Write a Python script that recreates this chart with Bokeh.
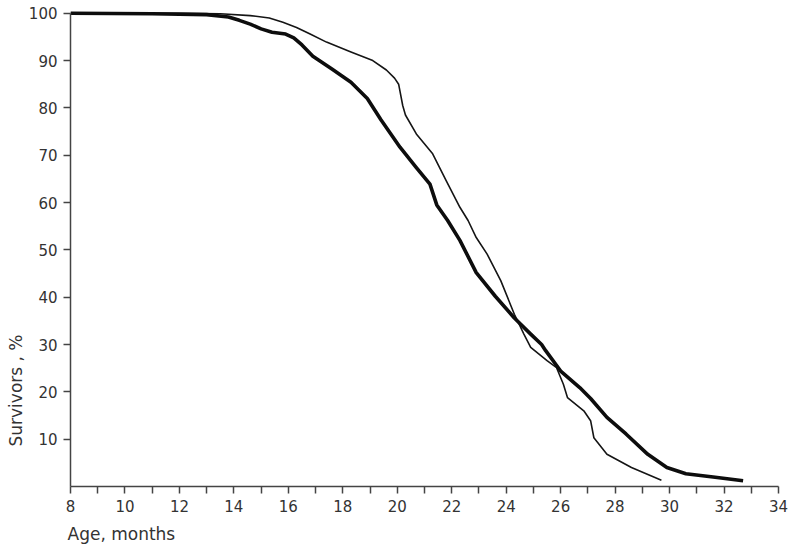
from bokeh.plotting import figure
from bokeh.models import Range1d, FixedTicker, Title
from bokeh.embed import file_html
from bokeh.resources import INLINE

# Thick curve (age in months, survivors %)
thick_age = [8.0, 11.0, 13.0, 13.8, 14.2, 14.6, 15.0, 15.4, 15.9, 16.2, 16.5, 16.9,
             17.6, 18.3, 18.9, 19.4, 20.1, 20.7, 21.2, 21.45, 21.85, 22.3, 22.9,
             23.6, 24.3, 24.9, 25.3, 25.45, 26.0, 26.7, 27.1, 27.7, 28.4, 29.2,
             29.9, 30.6, 31.6, 32.7]
thick_surv = [100, 99.9, 99.7, 99.2, 98.5, 97.7, 96.7, 96.0, 95.6, 94.8, 93.3, 90.9,
              88.2, 85.4, 82.0, 77.5, 71.7, 67.4, 63.9, 59.5, 56.2, 52.0, 45.2,
              40.2, 35.6, 32.2, 30.0, 28.7, 24.4, 20.9, 18.6, 14.6, 11.1, 6.8,
              4.0, 2.7, 2.0, 1.2]

# Thin curve
thin_age = [8.0, 12.0, 13.5, 14.6, 15.3, 15.8, 16.3, 16.8, 17.4, 18.3, 19.1, 19.6,
            19.9, 20.05, 20.2, 20.3, 20.7, 21.3, 21.8, 22.3, 22.6, 22.9, 23.3, 23.8,
            24.3, 24.65, 24.9, 25.5, 25.85, 26.1, 26.25, 26.85, 27.1, 27.22, 27.7,
            28.6, 29.7]
thin_surv = [100, 100, 99.9, 99.5, 99.0, 98.1, 97.0, 95.6, 93.9, 91.8, 90.0, 88.0,
             86.3, 85.0, 80.5, 78.5, 74.5, 70.3, 64.6, 59.0, 56.2, 52.6, 49.1, 43.5,
             36.4, 32.2, 29.4, 26.6, 25.1, 21.6, 18.8, 16.0, 13.9, 10.3, 6.8,
             4.0, 1.3]

x_major = [8, 10, 12, 14, 16, 18, 20, 22, 24, 26, 28, 30, 32, 34]
x_minor = [9, 11, 13, 15, 17, 19, 21, 23, 25, 27, 29, 31, 33]
y_ticks = [10, 20, 30, 40, 50, 60, 70, 80, 90, 100]

FONT = "DejaVu Sans"
TXT = "#333333"
AX = "#444444"

p = figure(width=791, height=552, x_range=Range1d(8, 34), y_range=Range1d(0, 101),
           output_backend="svg", toolbar_location=None,
           min_border_left=70, min_border_right=13, min_border_top=8, min_border_bottom=66)
p.outline_line_color = None
p.xgrid.visible = False
p.ygrid.visible = False
p.background_fill_color = "white"

xa = p.xaxis[0]
xa.ticker = FixedTicker(ticks=x_major, minor_ticks=x_minor)
xa.bounds = (8, 34)
ya = p.yaxis[0]
ya.ticker = FixedTicker(ticks=y_ticks, minor_ticks=[])
ya.bounds = (0, 100)
for ax in (xa, ya):
    ax.axis_line_color = AX
    ax.axis_line_width = 1.5
    ax.major_tick_line_color = AX
    ax.major_tick_line_width = 1.5
    ax.minor_tick_line_color = AX
    ax.minor_tick_line_width = 1.5
    ax.major_tick_in = 0
    ax.major_tick_out = 7
    ax.minor_tick_in = 0
    ax.minor_tick_out = 7
    ax.major_label_text_font = FONT
    ax.major_label_text_font_size = "15px"
    ax.major_label_text_color = TXT
    ax.major_label_standoff = 6
ya.minor_tick_out = 0

p.line(thin_age, thin_surv, line_color="#151515", line_width=1.6, line_join="round")
p.line(thick_age, thick_surv, line_color="#0d0d0d", line_width=3.6, line_join="round")

p.add_layout(Title(text="Age,  months", align="left", offset=-3, standoff=15,
                   text_font=FONT, text_font_size="17px", text_color=TXT,
                   text_font_style="normal"), "below")
p.add_layout(Title(text="Survivors , %", align="left", offset=40, standoff=0,
                   text_font=FONT, text_font_size="17px", text_color=TXT,
                   text_font_style="normal"), "left")

open("out.html", "w").write(file_html(p, INLINE))
